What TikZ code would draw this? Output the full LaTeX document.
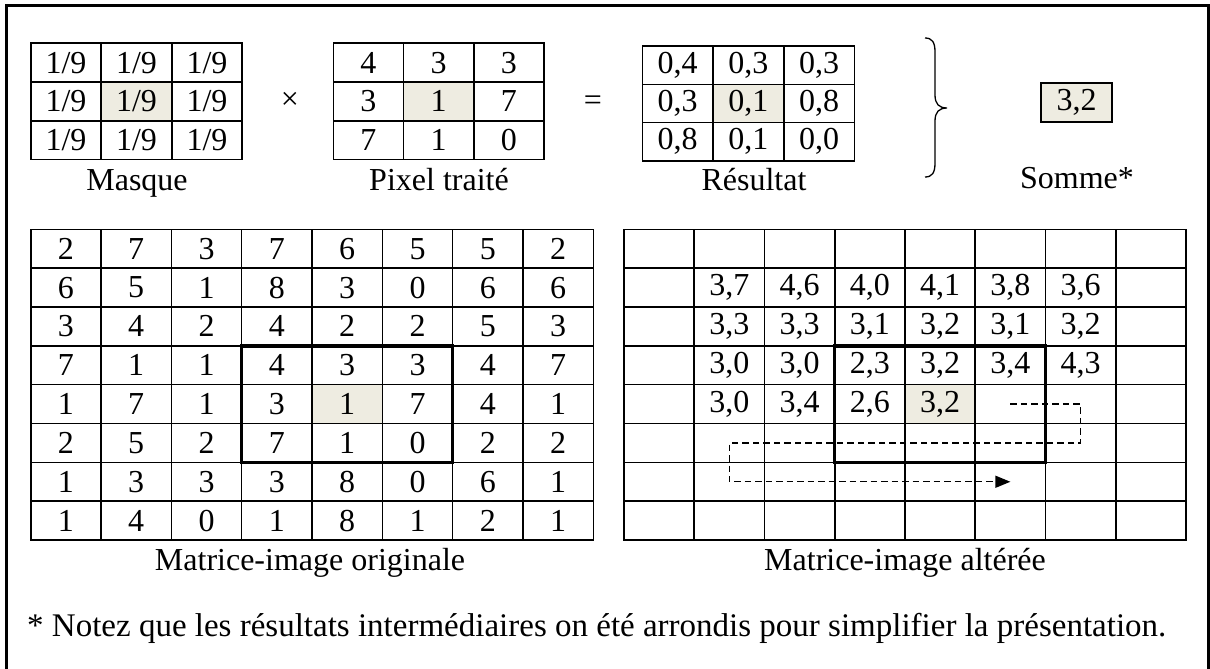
\documentclass[tikz,border=0pt]{standalone}
\usepackage{fontspec}
\setmainfont{Liberation Serif}
\usetikzlibrary{arrows.meta,backgrounds}
\definecolor{cellbg}{RGB}{238,236,225}
\newcommand\mrow[7]{%
  \foreach \v [count=\c from 0] in {#7} {%
    \node[cell, minimum width=#5pt, minimum height=#6pt] (#1-#2-\c) at ({#3+(\c+0.5)*#5},{#4+(#2+0.5)*#6}) {\v};
  }}
\begin{document}
\begin{tikzpicture}[x=1pt,y=-1pt,
  cell/.style={draw, line width=1.6pt, inner sep=0pt, outer sep=0pt, font=\fontsize{32}{36}\selectfont},
  lbl/.style={inner sep=0pt, anchor=base, font=\fontsize{32}{36}\selectfont},
  sym/.style={inner sep=0pt, font=\fontsize{32}{36}\selectfont},
  thickbox/.style={line width=3.4pt},
  path/.style={line width=1.4pt, dash pattern=on 6.5pt off 4pt, -{Triangle[length=15pt,width=12pt]}},
  frame/.style={line width=2.6pt}]
\useasboundingbox (0,0) rectangle (1210,669);
\draw[frame] (6.5,5.5) rectangle (1208.5,690);
% Masque
\mrow{M}{0}{30.7}{43.3}{70.5}{38.7}{1/9,1/9,1/9}
\mrow{M}{1}{30.7}{43.3}{70.5}{38.7}{1/9,1/9,1/9}
\mrow{M}{2}{30.7}{43.3}{70.5}{38.7}{1/9,1/9,1/9}
% Pixel traite
\mrow{P}{0}{333.3}{43.3}{70.2}{38.7}{4,3,3}
\mrow{P}{1}{333.3}{43.3}{70.2}{38.7}{3,1,7}
\mrow{P}{2}{333.3}{43.3}{70.2}{38.7}{7,1,0}
% Resultat
\mrow{S}{0}{642.3}{46}{70.7}{38.3}{{0,4},{0,3},{0,3}}
\mrow{S}{1}{642.3}{46}{70.7}{38.3}{{0,3},{0,1},{0,8}}
\mrow{S}{2}{642.3}{46}{70.7}{38.3}{{0,8},{0,1},{0,0}}
% Somme
\node[cell, fill=cellbg, minimum width=71pt, minimum height=39pt] (sum) at (1076.5,102.5) {3,2};
\node[sym] (times) at (290,101) {×};
\node[sym] (eq) at (593,103) {=};
\draw[line width=1.3pt] (925,38) .. controls (932,38) and (935,42) .. (935,52) -- (935,95) .. controls (935,104) and (939,108) .. (947,108) .. controls (939,108) and (935,112) .. (935,121) -- (935,163) .. controls (935,173) and (932,177) .. (925,177);
\node[lbl] (lmask) at (137,190) {Masque};
\node[lbl] (lpix) at (439,190) {Pixel traité};
\node[lbl] (lres) at (754,190) {Résultat};
\node[lbl] (lsum) at (1077,188) {Somme*};
% Matrice originale
\mrow{L}{0}{30.7}{229.3}{70.33}{38.84}{2,7,3,7,6,5,5,2}
\mrow{L}{1}{30.7}{229.3}{70.33}{38.84}{6,5,1,8,3,0,6,6}
\mrow{L}{2}{30.7}{229.3}{70.33}{38.84}{3,4,2,4,2,2,5,3}
\mrow{L}{3}{30.7}{229.3}{70.33}{38.84}{7,1,1,4,3,3,4,7}
\mrow{L}{4}{30.7}{229.3}{70.33}{38.84}{1,7,1,3,1,7,4,1}
\mrow{L}{5}{30.7}{229.3}{70.33}{38.84}{2,5,2,7,1,0,2,2}
\mrow{L}{6}{30.7}{229.3}{70.33}{38.84}{1,3,3,3,8,0,6,1}
\mrow{L}{7}{30.7}{229.3}{70.33}{38.84}{1,4,0,1,8,1,2,1}
% Matrice alteree
\mrow{R}{0}{624}{229.3}{70.25}{38.84}{{},{},{},{},{},{},{},{}}
\mrow{R}{1}{624}{229.3}{70.25}{38.84}{{},{3,7},{4,6},{4,0},{4,1},{3,8},{3,6},{}}
\mrow{R}{2}{624}{229.3}{70.25}{38.84}{{},{3,3},{3,3},{3,1},{3,2},{3,1},{3,2},{}}
\mrow{R}{3}{624}{229.3}{70.25}{38.84}{{},{3,0},{3,0},{2,3},{3,2},{3,4},{4,3},{}}
\mrow{R}{4}{624}{229.3}{70.25}{38.84}{{},{3,0},{3,4},{2,6},{3,2},{},{},{}}
\mrow{R}{5}{624}{229.3}{70.25}{38.84}{{},{},{},{},{},{},{},{}}
\mrow{R}{6}{624}{229.3}{70.25}{38.84}{{},{},{},{},{},{},{},{}}
\mrow{R}{7}{624}{229.3}{70.25}{38.84}{{},{},{},{},{},{},{},{}}
\begin{scope}[on background layer]
  \foreach \n in {M-1-1,P-1-1,S-1-1,L-4-4,R-4-4}
    \fill[cellbg] (\n.north west) rectangle (\n.south east);
\end{scope}
\draw[thickbox] (L-3-3.north west) rectangle (L-5-5.south east);
\draw[thickbox] (R-3-3.north west) rectangle (R-5-5.south east);
\draw[path] (R-4-5.center) -- (R-4-6.center) -- (R-5-6.center) -- (R-5-1.center) -- (R-6-1.center) -- (R-6-5.center);
\node[lbl] (lorig) at (310,570) {Matrice-image originale};
\node[lbl] (lalt) at (905,570) {Matrice-image altérée};
\node[lbl, anchor=base west, font=\fontsize{33}{38}\selectfont] (note) at (27,636) {* Notez que les résultats intermédiaires on été arrondis pour simplifier la présentation.};
\end{tikzpicture}
\end{document}
